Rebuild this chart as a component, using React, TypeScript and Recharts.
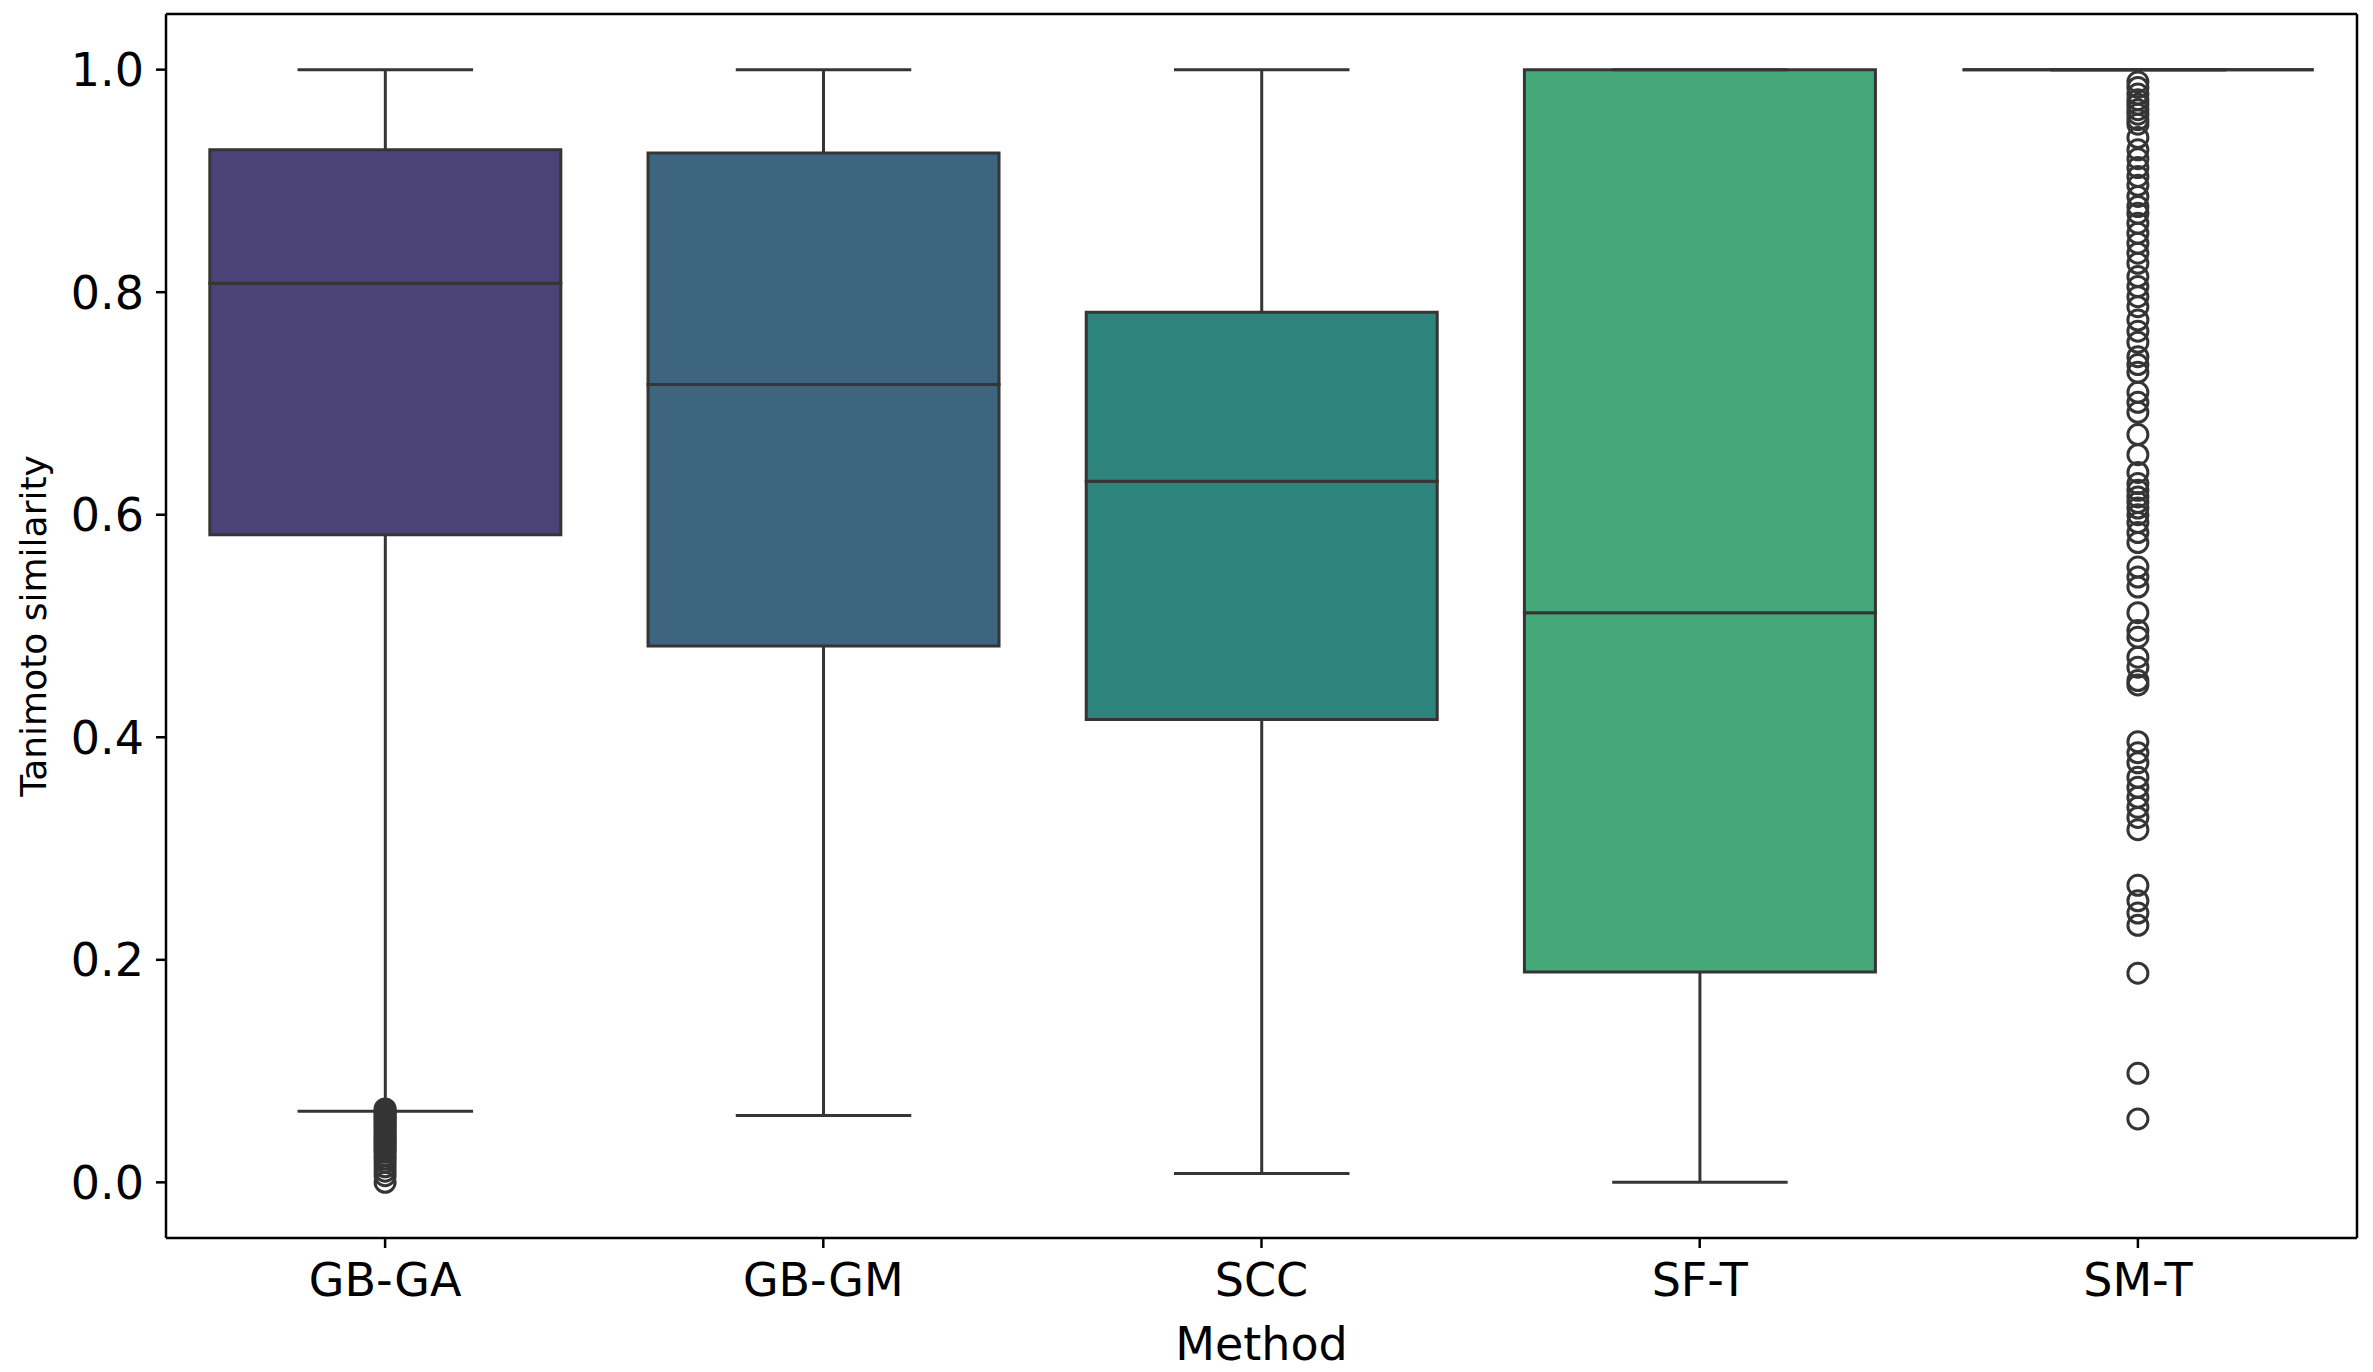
import React from 'react';
import { ComposedChart, Bar, Scatter, XAxis, YAxis } from 'recharts';

const methods = ['GB-GA', 'GB-GM', 'SCC', 'SF-T', 'SM-T'];
const whiskerLow = [0.064, 0.06, 0.008, 0.0, 1.0];
const quartile1 = [0.582, 0.482, 0.416, 0.189, 1.0];
const medians = [0.808, 0.717, 0.63, 0.512, 1.0];
const quartile3 = [0.928, 0.925, 0.782, 1.0, 1.0];
const whiskerHigh = [1.0, 1.0, 1.0, 1.0, 1.0];
const boxColors = ['#4b4277', '#3d6580', '#2d847c', '#44a878', '#86c55e'];

const outliersGBGA = [
  0.066, 0.064, 0.063, 0.061, 0.059, 0.057, 0.055, 0.053, 0.051, 0.049, 0.047, 0.045,
  0.043, 0.041, 0.039, 0.037, 0.035, 0.033, 0.031, 0.029, 0.027, 0.024, 0.021, 0.018,
  0.014, 0.01, 0.006, 0.0,
];
const outliersSMT = [
  0.989, 0.984, 0.978, 0.973, 0.969, 0.964, 0.96, 0.955, 0.951, 0.939, 0.928, 0.92, 0.912,
  0.904, 0.896, 0.886, 0.877, 0.871, 0.862, 0.853, 0.844, 0.835, 0.826, 0.814, 0.805,
  0.796, 0.787, 0.775, 0.765, 0.755, 0.742, 0.735, 0.728, 0.71, 0.701, 0.692, 0.672,
  0.654, 0.638, 0.628, 0.622, 0.616, 0.611, 0.606, 0.6, 0.593, 0.584, 0.575, 0.553,
  0.544, 0.535, 0.512, 0.496, 0.49, 0.472, 0.463, 0.451, 0.447, 0.396, 0.386, 0.377,
  0.364, 0.355, 0.346, 0.337, 0.328, 0.317, 0.267, 0.253, 0.242, 0.231, 0.188, 0.098,
  0.057,
];
const yTicks = [0, 0.2, 0.4, 0.6, 0.8, 1.0];

const rows = methods.map((m, i) => ({
  method: m,
  color: boxColors[i],
  base: whiskerLow[i],
  lowWhisker: quartile1[i] - whiskerLow[i],
  lowBox: medians[i] - quartile1[i],
  highBox: quartile3[i] - medians[i],
  highWhisker: whiskerHigh[i] - quartile3[i],
}));

const outlierRows = [
  ...outliersGBGA.map((v) => ({ method: 'GB-GA', value: v })),
  ...outliersSMT.map((v) => ({ method: 'SM-T', value: v })),
];

const LINE = '#353535';
const LW = 3;
const FONT = 'DejaVu Sans';

const Empty = () => <g />;

const LowWhisker = (p: any) => {
  const { x, y, width, height } = p;
  const cx = x + width / 2;
  const bottom = y + height;
  return (
    <g>
      <line x1={cx} x2={cx} y1={y} y2={bottom} stroke={LINE} strokeWidth={LW} />
      <line x1={cx - width / 4} x2={cx + width / 4} y1={bottom} y2={bottom} stroke={LINE} strokeWidth={LW} />
    </g>
  );
};

const HighWhisker = (p: any) => {
  const { x, y, width, height } = p;
  const cx = x + width / 2;
  return (
    <g>
      <line x1={cx} x2={cx} y1={y} y2={y + height} stroke={LINE} strokeWidth={LW} />
      <line x1={cx - width / 4} x2={cx + width / 4} y1={y} y2={y} stroke={LINE} strokeWidth={LW} />
    </g>
  );
};

const BoxPart = (p: any) => {
  const { x, y, width, height, payload, index } = p;
  const color = (payload && payload.color) || boxColors[index] || '#888';
  return (
    <path
      d={`M${x},${y}h${width}v${height}h${-width}Z`}
      fill={color}
      stroke={LINE}
      strokeWidth={LW}
    />
  );
};

const Outlier = (p: any) => (
  <circle cx={p.cx} cy={p.cy} r={10} fill="none" stroke={LINE} strokeWidth={LW} />
);

const axisStroke = { stroke: '#000', strokeWidth: 2.5 };

export default function App() {
  return (
    <div style={{ position: 'absolute', left: 0, top: 0, width: 2373, height: 1372, background: '#fff' }}>
      <ComposedChart
        width={2373}
        height={1372}
        data={rows}
        margin={{ top: 13, right: 15, bottom: 0, left: 0 }}
        barCategoryGap="10%"
        style={{ fontFamily: FONT }}
      >
        <XAxis
          dataKey="method"
          type="category"
          allowDuplicatedCategory={false}
          height={134}
          tickSize={10}
          tickMargin={15}
          axisLine={axisStroke}
          tickLine={axisStroke}
          tick={{ fill: '#000', fontSize: 46, fontFamily: FONT }}
          label={{ value: 'Method', position: 'insideBottom', offset: 12, fill: '#000', fontSize: 46, fontFamily: FONT }}
        />
        <XAxis
          xAxisId="top"
          orientation="top"
          dataKey="method"
          type="category"
          allowDuplicatedCategory={false}
          height={1}
          tick={false}
          tickLine={false}
          axisLine={axisStroke}
        />
        <YAxis
          type="number"
          domain={[-0.05, 1.05]}
          ticks={yTicks}
          tickFormatter={(v: number) => v.toFixed(1)}
          width={166}
          tickSize={10}
          tickMargin={12}
          axisLine={axisStroke}
          tickLine={axisStroke}
          tick={{ fill: '#000', fontSize: 46, fontFamily: FONT }}
          label={{
            value: 'Tanimoto similarity',
            angle: -90,
            position: 'insideLeft',
            offset: 33,
            style: { textAnchor: 'middle' },
            fill: '#000',
            fontSize: 36,
            fontFamily: FONT,
          }}
        />
        <YAxis
          yAxisId="right"
          orientation="right"
          type="number"
          domain={[-0.05, 1.05]}
          width={1}
          tick={false}
          tickLine={false}
          axisLine={axisStroke}
        />
        <Bar dataKey="base" stackId="box" shape={Empty} isAnimationActive={false} />
        <Bar dataKey="lowWhisker" stackId="box" shape={LowWhisker} isAnimationActive={false} />
        <Bar dataKey="lowBox" stackId="box" shape={BoxPart} isAnimationActive={false} />
        <Bar dataKey="highBox" stackId="box" shape={BoxPart} isAnimationActive={false} />
        <Bar dataKey="highWhisker" stackId="box" shape={HighWhisker} isAnimationActive={false} />
        <Scatter data={outlierRows} dataKey="value" shape={Outlier} isAnimationActive={false} />
      </ComposedChart>
    </div>
  );
}
